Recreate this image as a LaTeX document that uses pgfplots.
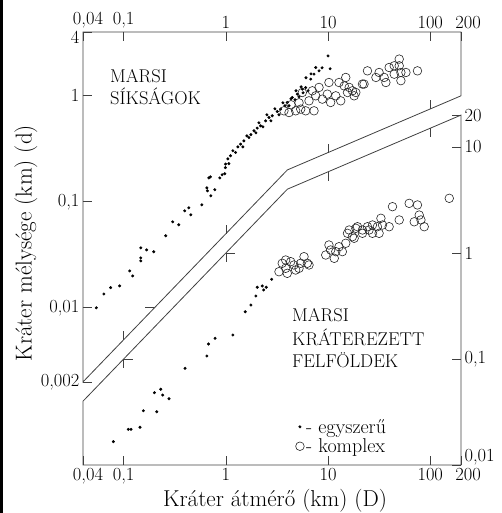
\documentclass[border=0pt]{standalone}
\usepackage{pgfplots}
\usepackage{pgfplotstable}
\pgfplotsset{compat=1.18}
\usetikzlibrary{calc}

% upper panel: Martian plains (D km, d km)
\pgfplotstableread{
D d
0.054 0.0100
0.064 0.0135
0.0746 0.0155
0.0914 0.0161
0.1146 0.0223
0.1225 0.0200
0.147 0.0277
0.147 0.0296
0.147 0.0368
0.168 0.0352
0.197 0.0338
0.258 0.0478
0.302 0.0647
0.346 0.0607
0.396 0.0822
0.434 0.0878
0.454 0.0754
0.582 0.0937
0.652 0.1355
0.66 0.127
0.713 0.114
0.681 0.168
0.705 0.172
0.78 0.130
0.873 0.168
0.92 0.180
0.977 0.184
0.99 0.210
1.07 0.229
0.993 0.227
1.046 0.2545
1.112 0.272
1.171 0.303
1.245 0.292
1.311 0.330
1.393 0.350
1.468 0.330
1.501 0.376
1.606 0.419
1.680 0.404
1.758 0.430
1.883 0.468
1.968 0.448
2.028 0.496
2.108 0.556
2.188 0.521
2.306 0.510
2.450 0.581
2.523 0.662
2.640 0.624
2.761 0.581
2.843 0.648
3.02 0.754
3.186 0.711
3.31 0.662
3.438 0.749
3.62 0.859
3.788 0.805
3.99 0.865
4.15 0.805
4.34 0.937
4.467 0.964
4.75 0.917
4.86 1.115
5.0 1.037
5.20 0.979
5.44 1.216
5.60 1.157
5.69 1.067
6.04 1.197
6.08 1.479
6.37 1.115
6.77 1.437
6.81 1.61
7.29 1.602
7.57 1.849
8.16 1.72
8.73 1.837
10.0 2.38
10.47 1.80
}\sikEgy

\pgfplotstableread{
D d
24.3 1.72
31.6 1.66
29.4 1.49
35.4 1.49
39.6 1.85
44.4 1.92
49.7 2.22
49.7 1.92
51.6 1.66
57.8 1.66
51.6 1.39
36.8 1.335
75.0 1.72
44.4 1.60
14.9 1.49
12.8 1.335
14.4 1.24
16.1 1.20
17.3 1.115
15.5 1.075
13.3 0.897
10.2 1.335
21.7 1.29
11.9 1.0
18.0 1.0
18.7 1.075
22.5 1.29
6.04 0.722
7.29 0.722
6.51 0.897
7.57 1.0
8.79 0.93
5.60 1.075
7.02 1.115
8.16 1.20
9.84 1.037
10.6 0.865
3.70 0.722
4.15 0.695
4.82 0.722
5.40 0.749
4.34 0.823
5.20 0.859
}\sikKomp

% lower panel: Martian cratered highlands
\pgfplotstableread{
D d
0.0793 0.0166
0.111 0.0217
0.118 0.0217
0.1445 0.0227
0.156 0.0325
0.211 0.0318
0.200 0.0481
0.2306 0.0518
0.241 0.0457
0.278 0.0422
0.399 0.0817
0.652 0.1067
0.676 0.1386
0.785 0.1568
1.171 0.1684
1.546 0.279
1.758 0.323
1.968 0.393
2.343 0.448
2.028 0.475
2.27 0.489
2.484 0.475
2.805 0.565
}\felEgy

\pgfplotstableread{
D d
3.31 0.666
3.56 0.80
3.85 0.717
3.99 0.643
4.31 0.828
4.64 0.771
4.82 0.691
5.20 0.717
5.40 0.80
5.82 0.923
6.51 0.771
3.85 0.859
6.27 0.80
9.49 0.957
10.6 1.067
11.9 1.03
10.2 1.19
12.8 1.146
13.8 1.03
11.5 0.891
14.9 1.235
16.1 1.648
17.3 1.425
15.5 1.534
18.7 1.71
21.7 1.534
19.4 1.77
21.7 1.648
24.3 1.77
27.2 1.837
30.4 1.77
32.9 2.125
34.1 1.837
39.6 1.77
42.7 2.735
49.7 2.05
62.2 2.94
75.0 2.84
69.7 1.97
78.0 2.28
81.1 2.05
87.3 1.77
153.5 3.28
18.0 1.377
27.2 1.534
31.6 1.534
25.2 1.648
}\felKomp

\newcommand{\lgf}{\fontsize{20}{23}\selectfont}

\begin{document}
\begin{tikzpicture}[tk/.style={black!75, line width=0.7pt}, txt/.style={anchor=base west, inner sep=0pt, font=\fontsize{18.5}{22}\selectfont}]
\begin{axis}[name=up,
    width=378pt, height=433pt, scale only axis,
    xmode=log, ymode=log, xmin=0.04, xmax=200,
    ymin=3.29e-4, ymax=4,
    xminorticks=false, yminorticks=false,
    axis x line*=top, axis y line*=left,
    axis line style={draw=none},
    tick align=inside, major tick length=9pt,
    tick style={black!75, line width=0.7pt},
    tick label style={font=\fontsize{18.5}{22}\selectfont},
    label style={font=\fontsize{23}{27}\selectfont},
    xtick={0.04,0.1,1,10,100,200},
    xticklabels={{\hspace*{10pt}0,04},{0,1},1,10,100,{\hspace*{14pt}200}},
    ytick={0.002,0.01,0.1,1,4},
    yticklabels={{0,002},{0,01},{0,1},1,{\raisebox{-5pt}[\height][\depth]{4}}},
    ylabel={Kráter mélysége (km) (d)},
    ylabel style={at={(axis description cs:-0.151,0.512)}, anchor=center},
    clip=false,
]
\addplot[black!75, line width=0.8pt, no marks, forget plot] coordinates {(200,1) (200,4) (0.04,4) (0.04,0.002) (4,0.2) (200,1)};
\addplot[only marks, mark=*, mark size=1.3pt, black] table[x=D,y=d] {\sikEgy};
\addplot[only marks, mark=o, mark size=4.3pt, black!85, mark options={line width=0.6pt}] table[x=D,y=d] {\sikKomp};
\draw[tk] (axis cs:0.1,0.005) -- ([yshift=9pt]axis cs:0.1,0.005);
\draw[tk] (axis cs:1,0.05) -- ([yshift=9pt]axis cs:1,0.05);
\draw[tk] (axis cs:10,0.2916) -- ([yshift=9pt]axis cs:10,0.2916);
\draw[tk] (axis cs:100,0.7518) -- ([yshift=9pt]axis cs:100,0.7518);
\draw[tk] (axis cs:0.2,0.01) -- ([xshift=-9pt]axis cs:0.2,0.01);
\node[txt] at (rel axis cs:0.0714,0.8845) {MARSI};
\node[txt] at (rel axis cs:0.0714,0.8314) {SÍKSÁGOK};
\end{axis}

\begin{axis}[name=lo,
    width=378pt, height=433pt, scale only axis,
    xmode=log, ymode=log, xmin=0.04, xmax=200,
    ymin=0.01, ymax=121.6,
    xminorticks=false, yminorticks=false,
    axis x line*=bottom, axis y line*=right,
    axis line style={draw=none},
    tick align=inside, major tick length=9pt,
    tick style={black!75, line width=0.7pt},
    tick label style={font=\fontsize{18.5}{22}\selectfont},
    label style={font=\fontsize{23}{27}\selectfont},
    xtick={0.04,0.1,1,10,100,200},
    xticklabels={{\hspace*{10pt}0,04},{0,1},1,10,100,{\hspace*{14pt}200}},
    ytick={0.01,0.1,1,10,20},
    yticklabels={{\raisebox{8pt}[\height][\depth]{0,01}},{0,1},1,10,20},
    xlabel={Kráter átmérő (km) (D)},
    xlabel style={at={(axis description cs:0.508,-0.096)}, anchor=base},
    legend style={at={(rel axis cs:0.562,0.111)}, anchor=north west, draw=none, fill=none,
      row sep=0pt, inner sep=0pt},
    legend cell align=left,
    legend image code/.code={\draw[mark repeat=2,mark phase=2,#1] plot coordinates {(0cm,0cm) (0.1cm,0cm) (0.2cm,0cm)};},
    clip=false,
]
\addplot[black!75, line width=0.8pt, no marks, forget plot] coordinates {(0.04,0.04) (0.04,0.01) (200,0.01) (200,20) (4,4) (0.04,0.04)};
\addplot[only marks, mark=*, mark size=1.3pt, black] table[x=D,y=d] {\felEgy};
\addlegendentry{\lgf - egyszerű}
\addplot[only marks, mark=o, mark size=4.3pt, black!85, mark options={line width=0.6pt}] table[x=D,y=d] {\felKomp};
\addlegendentry{\lgf - komplex}
\draw[tk] (axis cs:0.1,0.1) -- ([yshift=-9pt]axis cs:0.1,0.1);
\draw[tk] (axis cs:1,1) -- ([yshift=-9pt]axis cs:1,1);
\draw[tk] (axis cs:10,5.831) -- ([yshift=-9pt]axis cs:10,5.831);
\draw[tk] (axis cs:100,15.04) -- ([yshift=-9pt]axis cs:100,15.04);
\draw[tk] (axis cs:0.1,0.1) -- ([xshift=9pt]axis cs:0.1,0.1);
\draw[tk] (axis cs:1,1) -- ([xshift=9pt]axis cs:1,1);
\node[txt] at (rel axis cs:0.5529,0.3303) {MARSI};
\node[txt] at (rel axis cs:0.5529,0.2771) {KRÁTEREZETT};
\node[txt] at (rel axis cs:0.5529,0.2263) {FELFÖLDEK};
\end{axis}

\fill[black] ($(lo.south west)+(-83pt,-48pt)$) rectangle ($(lo.south west)+(-80pt,465pt)$);
\pgfresetboundingbox
\path[use as bounding box] ($(lo.south west)+(-83pt,-48pt)$) rectangle ($(lo.south west)+(419pt,465pt)$);
\end{tikzpicture}
\end{document}
